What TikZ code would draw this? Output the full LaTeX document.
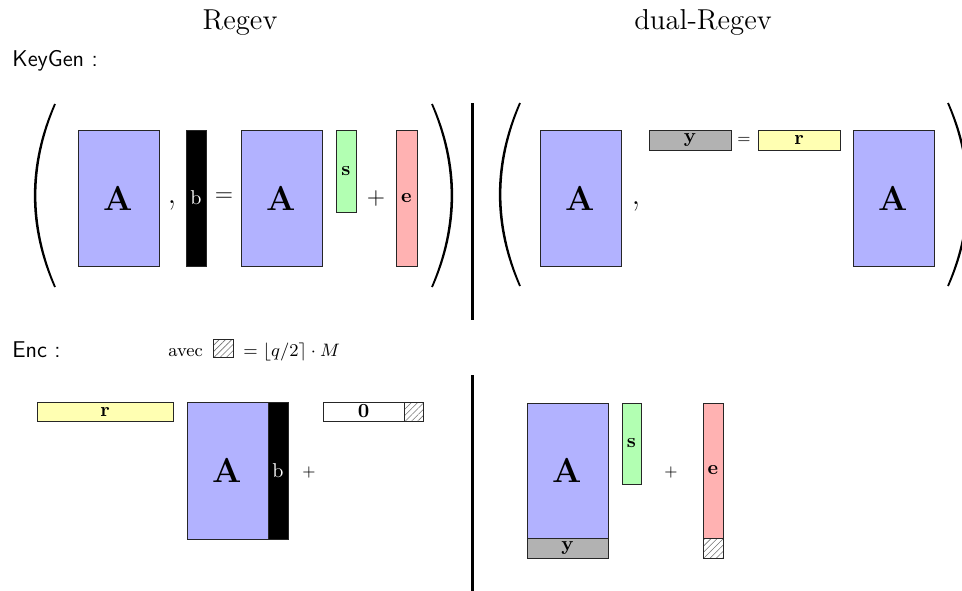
\documentclass[tikz,border=0pt]{standalone}
\usepackage{amsmath}
\usetikzlibrary{patterns.meta}
\definecolor{cA}{rgb}{0.7,0.7,1}
\definecolor{cS}{rgb}{0.7,1,0.7}
\definecolor{cE}{rgb}{1,0.7,0.7}
\definecolor{cR}{rgb}{1,1,0.7}
\definecolor{cY}{rgb}{0.7,0.7,0.7}
\tikzset{
  blk/.style={draw=black!85, line width=0.5pt, inner sep=0pt, outer sep=0pt, anchor=north west},
  sz/.style 2 args={minimum width={#1*0.5pt}, minimum height={#2*0.5pt}},
  hatch/.style={pattern={Lines[angle=45,distance=2.2pt,line width=0.3pt]}, pattern color=black!55},
  sepline/.style={line width=1.5pt},
  op/.style={inner sep=0pt},
  lparen/.pic={\filldraw[line width=0.9pt, line cap=round] (0,0) .. controls (-27,61) and (-27,122) .. (0,183) .. controls (-26,122) and (-26,61) .. (0,0) -- cycle;},
  bigA/.style={font=\LARGE\bfseries},
  lbl/.style={font=\normalsize\bfseries},
  wlbl/.style={font=\normalsize, text=white}
}
\begin{document}
\begin{tikzpicture}[x=0.5pt,y=-0.5pt]
\useasboundingbox (0,0) rectangle (962,590);
\clip (0,0) rectangle (962,590);

% headers
\node[anchor=base, op, font=\Large] (hR) at (240,29) {Regev};
\node[anchor=base, op, font=\Large] (hD) at (703,29) {dual-Regev};
\node[anchor=base west, op, font=\sffamily\fontsize{11.4}{13}\selectfont] (kg) at (12,66) {KeyGen :};
\node[anchor=base west, op, font=\sffamily\fontsize{11.4}{13}\selectfont] (enc) at (12,357) {Enc :};

% separators
\coordinate (s1) at (472,103);
\coordinate (s2) at (472,320);
\coordinate (s3) at (472,375);
\coordinate (s4) at (472,592);
\draw[sepline] (s1) -- (s2);
\draw[sepline] (s3) -- (s4);

% ---------- KeyGen Regev ----------
\pic at (55,104) {lparen};
\pic[xscale=-1] at (432,104) {lparen};
\node[blk, fill=cA, sz={81}{136}, bigA] (A1) at (78,130) {A};
\node[op, font=\LARGE, anchor=base] (c1) at (172,203) {,};
\node[blk, fill=black, sz={20}{136}, wlbl] (b1) at (186,130) {b};
\node[op, font=\large] (eq1) at (224,197) {$=$};
\node[blk, fill=cA, sz={81}{136}, bigA] (A2) at (241,130) {A};
\node[blk, fill=cS, sz={20}{82}, lbl] (s1b) at (336,130) {s};
\node[op, font=\large] (pl1) at (376,198) {$+$};
\node[blk, fill=cE, sz={21}{136}, lbl] (e1) at (396,130) {e};

% ---------- KeyGen dual-Regev ----------
\pic at (520,103) {lparen};
\pic[xscale=-1] at (948,103) {lparen};
\node[blk, fill=cA, sz={81}{136}, bigA] (A3) at (540,130) {A};
\node[op, font=\LARGE, anchor=base] (c2) at (636,204) {,};
\node[blk, fill=cY, sz={82}{20}, lbl] (y1) at (649,130) {y};
\node[op, font=\footnotesize] (eq2) at (744,140) {$=$};
\node[blk, fill=cR, sz={82}{20}, lbl] (r1) at (758,130) {r};
\node[blk, fill=cA, sz={81}{136}, bigA] (A4) at (853,130) {A};

% ---------- Enc Regev ----------
\node[anchor=base west, op, font=\small] (avec) at (168,356) {avec};
\node[blk, hatch, sz={20}{18}] (hb) at (213,339) {};
\node[anchor=base west, op, font=\small] (rnd) at (243,356) {$=\lfloor q/2\rceil\cdot M$};

\node[blk, fill=cR, sz={136}{19}, lbl] (r2) at (37,402) {r};
\node[blk, fill=cA, sz={81}{137}, bigA] (A5) at (187,402) {A};
\node[blk, fill=black, sz={20}{137}, wlbl] (b2) at (268,402) {b};
\node[op, font=\footnotesize] (pl2) at (309,472) {$+$};
\node[blk, fill=white, sz={81}{19}, lbl] (z0) at (323,402) {0};
\node[blk, hatch, sz={19}{19}] (zh) at (404,402) {};

% ---------- Enc dual-Regev ----------
\node[blk, fill=cA, sz={81}{135}, bigA] (A6) at (527,403) {A};
\node[blk, fill=cY, sz={81}{20}, lbl] (y2) at (527,538) {y};
\node[blk, fill=cS, sz={19}{81}, lbl] (s2b) at (622,403) {s};
\node[op, font=\footnotesize] (pl3) at (671,472) {$+$};
\node[blk, fill=cE, sz={20}{135}, lbl] (e2) at (703,403) {e};
\node[blk, hatch, sz={20}{20}] (eh) at (703,538) {};
\end{tikzpicture}
\end{document}
